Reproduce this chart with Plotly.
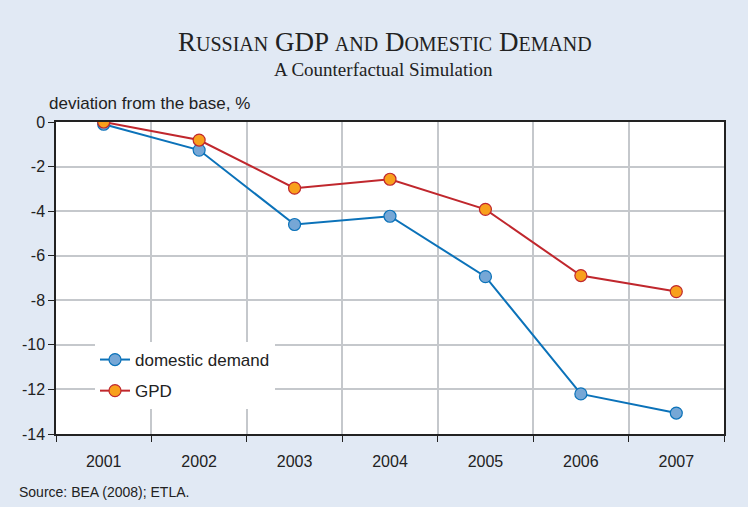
import plotly.graph_objects as go

years = ["2001", "2002", "2003", "2004", "2005", "2006", "2007"]
domestic_demand = [-0.1, -1.26, -4.6, -4.23, -6.94, -12.2, -13.06]
gdp = [0.0, -0.81, -2.97, -2.57, -3.92, -6.89, -7.61]
y_ticks = [0, -2, -4, -6, -8, -10, -12, -14]

BG = "#e1e9f4"
fig = go.Figure()
fig.add_trace(go.Scatter(
    x=years, y=domestic_demand, name="domestic demand", mode="lines+markers",
    legendgroup="a",
    line=dict(color="#0b72b9", width=2),
    marker=dict(size=12, color="#76a7d6", line=dict(color="#0b72b9", width=1.2)),
))
fig.add_trace(go.Scatter(
    x=years, y=gdp, name="GPD", mode="lines+markers",
    legendgroup="b",
    line=dict(color="#c0272d", width=2),
    marker=dict(size=12, color="#f8a01c", line=dict(color="#c0272d", width=1.2)),
))

FONT = "Liberation Sans, Arial, sans-serif"
SERIF = "Liberation Serif, Times New Roman, serif"
W, H = 748, 507
l, r, t, b = 56, 24, 122, 73
pw, ph = W - l - r, H - t - b


def ann(text, px_x, px_y, size, family=FONT, xanchor="center"):
    return dict(text=text, x=(px_x - l) / pw, y=(H - b - px_y) / ph,
                xref="paper", yref="paper", showarrow=False, xanchor=xanchor,
                yanchor="middle", font=dict(family=family, size=size, color="#222222"))


sc = "<span style='font-size:20px'>{}</span>"
title = "R" + sc.format("USSIAN") + " GDP " + sc.format("AND") + " D" + sc.format("OMESTIC") + " D" + sc.format("EMAND")

fig.update_layout(
    width=W, height=H,
    paper_bgcolor=BG, plot_bgcolor="white",
    margin=dict(l=l, r=r, t=t, b=b),
    font=dict(family=FONT, size=16, color="#222222"),
    showlegend=True,
    legend=dict(x=(95 - l) / pw, y=(H - b - 342) / ph, xanchor="left", yanchor="top",
                bgcolor="white", borderwidth=0,
                font=dict(family=FONT, size=17, color="#222222"),
                itemwidth=30, tracegroupgap=6),
    xaxis=dict(type="category", range=[-0.5, 6.5], tickson="boundaries", showgrid=True,
               gridcolor="#c5c8cc", gridwidth=1.5,
               ticks="outside", ticklen=6, tickcolor="#222222",
               ticklabelstandoff=12,
               showline=True, linecolor="#222222", linewidth=1.5, mirror=True,
               tickfont=dict(size=16, color="#222222"), zeroline=False),
    yaxis=dict(range=[-14, 0], tickvals=y_ticks, ticktext=[str(v) for v in y_ticks],
               showgrid=True, gridcolor="#c5c8cc", gridwidth=1.5,
               ticks="outside", ticklen=6, tickcolor="#222222",
               showline=True, linecolor="#222222", linewidth=1.5, mirror=True,
               zeroline=False, tickfont=dict(size=16, color="#222222")),
    annotations=[
        ann(title, 385, 42, 27, SERIF),
        ann("A Counterfactual Simulation", 383, 70, 19, SERIF),
        ann("deviation from the base, %", 47, 103, 17, xanchor="left"),
        ann("Source: BEA (2008); ETLA.", 17, 492, 14, xanchor="left"),
    ],
)

fig.write_html("out.html", config={"displayModeBar": False})

with open("out.html", encoding="utf-8") as f:
    html = f.read()
html = html.replace("<head>", "<head><style>html,body{margin:0;padding:0;background:%s;}</style>" % BG, 1)
with open("out.html", "w", encoding="utf-8") as f:
    f.write(html)
